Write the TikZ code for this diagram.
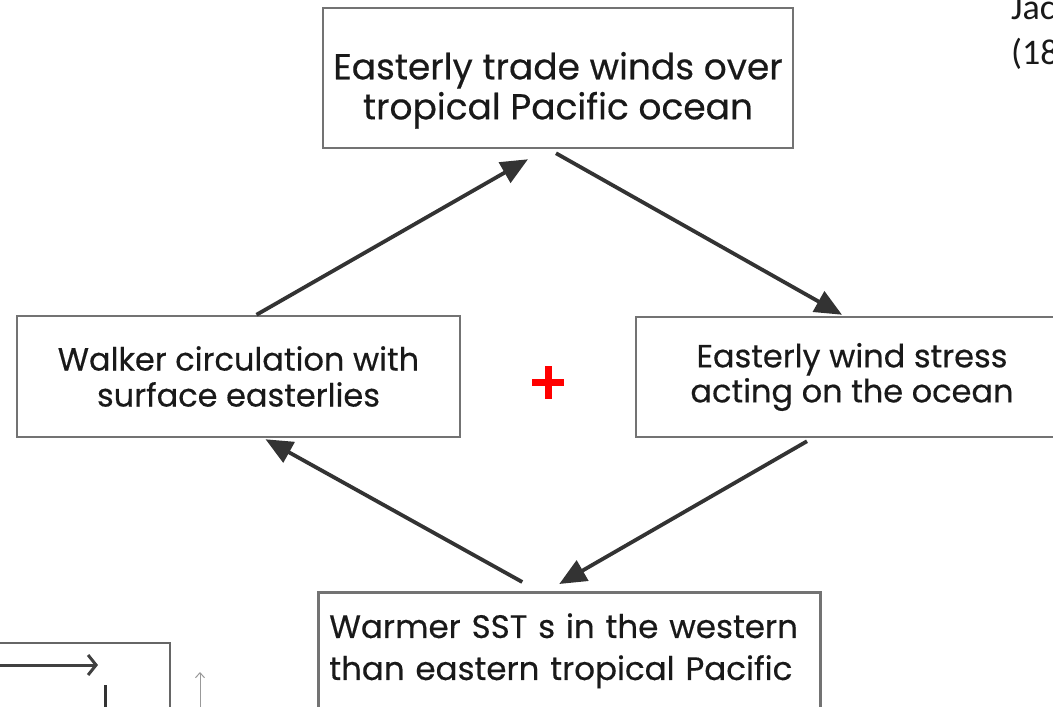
\documentclass[tikz,border=0pt]{standalone}
\usepackage{fontspec}
\setmainfont{Poppins}[FakeBold=0.4]
\newfontfamily\calibrifont{Carlito}
\usetikzlibrary{arrows.meta}

\tikzset{
  box/.style={draw=black!55, line width=2.5pt, inner sep=0pt, align=center,
    text=black!90, font=\fontsize{32}{36}\selectfont},
  flow/.style={draw=black!80, line width=3.8pt, -{Triangle[length=27pt,width=23pt]}},
  frag/.style={draw=black!60, line width=2pt},
}

\begin{document}
\begin{tikzpicture}[x=1pt,y=-1pt]
  \useasboundingbox (0,0) rectangle (1053,707);

  % the four boxes of the loop
  \node[box, minimum width=470pt, minimum height=140pt, font=\fontsize{36}{40}\selectfont] (trade) at (558,78)
    {\rule{0pt}{52pt}Easterly trade winds over\\tropical Pacific ocean};
  \node[box, minimum width=443pt, minimum height=121pt] (walker) at (238.5,376.5)
    {Walker circulation with\\surface easterlies};
  \node[box, minimum width=432pt, minimum height=120pt, font=\fontsize{32}{35}\selectfont] (wind) at (852,377)
    {Easterly wind stress\\acting on the ocean};
  \node[box, anchor=north west, text width=480pt, align=left, inner xsep=11pt, inner ysep=21pt,
    font=\fontsize{32.5}{42}\selectfont] (ssts) at (317,591)
    {Warmer SST s in the western\\than eastern tropical Pacific\rule[-60pt]{0pt}{0pt}};

  % feedback arrows
  \draw[flow] ([xshift=18pt]walker.north) -- ([xshift=-30pt,yshift=-10pt]trade.south);
  \draw[flow] ([xshift=-2pt,yshift=-4pt]trade.south) -- ([xshift=-10pt,yshift=1pt]wind.north);
  \draw[flow] ([xshift=-45pt,yshift=-3pt]wind.south) -- ([xshift=-10pt,yshift=7pt]ssts.north);
  \draw[flow] ([xshift=-47pt,yshift=9pt]ssts.north) -- ([xshift=27pt,yshift=-1pt]walker.south);

  % red plus in the middle
  \coordinate (plus) at (548,382);
  \draw[red, line width=7pt] ([xshift=-16pt]plus) -- ([xshift=16pt]plus)
    ([yshift=16pt]plus) -- ([yshift=-17pt]plus);

  % cut-off caption, top right
  \node[anchor=north west, inner sep=0pt, align=left, font=\calibrifont\fontsize{36}{45}\selectfont, text=black!90] (cite) at (1011,-4)
    {Jac\\(18};

  % fragment of another figure, bottom left
  \draw[frag] (0,643) -- (170,643) -- (170,712);
  \draw[draw=black!75, line width=3pt, -{Straight Barb[length=8pt,width=20pt]}] (0,665) -- (98,665);
  \draw[draw=black!80, line width=3pt] (105,685) -- (105,712);
  \draw[draw=black!40, line width=1pt, -{Straight Barb[length=5pt,width=9pt]}] (200,712) -- (200,672);
\end{tikzpicture}
\end{document}
